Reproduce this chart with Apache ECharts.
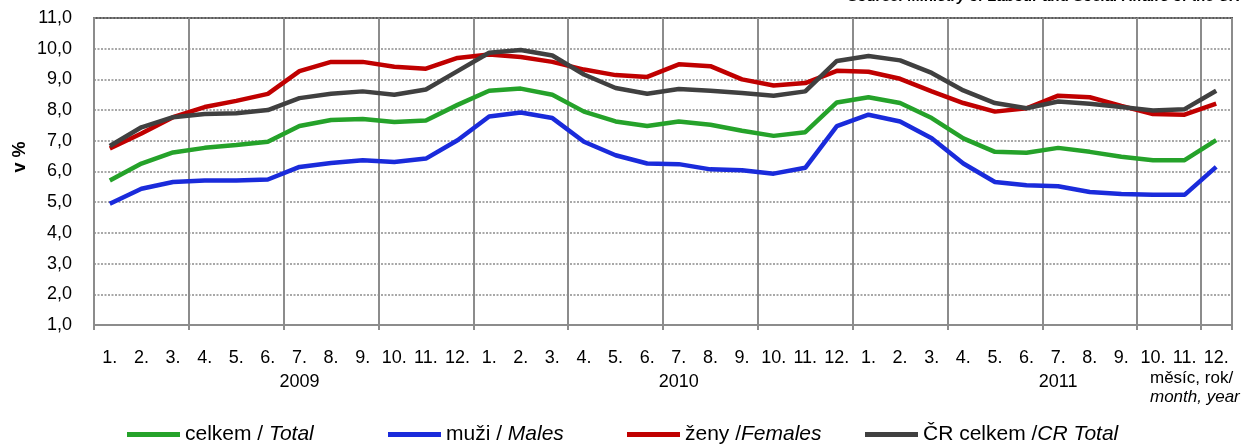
<!DOCTYPE html>
<html>
<head>
<meta charset="utf-8">
<script src="https://cdn.jsdelivr.net/npm/echarts@6/dist/echarts.min.js"></script>
<style>
  html, body { margin: 0; padding: 0; background: #fff; }
  #chart { width: 1247px; height: 445px; }
</style>
</head>
<body>
<div id="chart"></div>
<script>
// popisky osy x
var months = ['1.', '2.', '3.', '4.', '5.', '6.', '7.', '8.', '9.', '10.', '11.', '12.']
var years = ['2009', '2010', '2011']
var categories = [].concat(months, months, months)
var yTicks = [1, 2, 3, 4, 5, 6, 7, 8, 9, 10, 11]

// míra nezaměstnanosti v %
var celkem = [5.71, 6.26, 6.62, 6.77, 6.86, 6.97, 7.48, 7.68, 7.71, 7.61, 7.66, 8.17,
  8.63, 8.70, 8.50, 7.95, 7.63, 7.48, 7.63, 7.52, 7.33, 7.16, 7.28, 8.25,
  8.42, 8.23, 7.74, 7.08, 6.64, 6.61, 6.77, 6.64, 6.48, 6.37, 6.37, 7.02]
var muzi = [4.95, 5.44, 5.66, 5.71, 5.71, 5.74, 6.15, 6.28, 6.37, 6.31, 6.42, 7.02,
  7.79, 7.92, 7.74, 6.97, 6.53, 6.26, 6.24, 6.07, 6.04, 5.93, 6.12, 7.48,
  7.85, 7.63, 7.08, 6.26, 5.66, 5.55, 5.52, 5.33, 5.27, 5.24, 5.24, 6.15]
var zeny = [6.75, 7.24, 7.77, 8.10, 8.30, 8.53, 9.27, 9.57, 9.57, 9.41, 9.35, 9.70,
  9.81, 9.73, 9.57, 9.32, 9.14, 9.08, 9.49, 9.43, 9.00, 8.80, 8.88, 9.28,
  9.25, 9.02, 8.61, 8.23, 7.95, 8.06, 8.47, 8.42, 8.14, 7.87, 7.85, 8.21]
var crCelkem = [6.83, 7.44, 7.77, 7.87, 7.90, 8.00, 8.39, 8.53, 8.61, 8.50, 8.67, 9.27,
  9.87, 9.96, 9.78, 9.16, 8.72, 8.53, 8.69, 8.63, 8.56, 8.47, 8.61, 9.60,
  9.76, 9.62, 9.21, 8.64, 8.23, 8.06, 8.28, 8.21, 8.10, 7.99, 8.03, 8.63]

var namesCz = ['celkem / ', 'muži / ', 'ženy /', 'ČR celkem /']
var namesEn = ['Total', 'Males', 'Females', 'CR Total']
var colors = ['#25a22a', '#1a2bdb', '#c00000', '#404040']
var seriesData = [celkem, muzi, zeny, crCelkem]

var font = 'Liberation Sans, Arial, sans-serif'
var chart = echarts.init(document.getElementById('chart'))

var series = []
var legends = []
var legendLeft = [127, 388, 627, 865]
for (var i = 0; i < 4; i++) {
  var name = namesCz[i] + namesEn[i]
  series.push({
    name: name,
    type: 'line',
    data: seriesData[i],
    showSymbol: false,
    symbol: 'none',
    smooth: false,
    lineStyle: { color: colors[i], width: 4.5 },
    itemStyle: { color: colors[i] },
    z: 3 + i
  })
  legends.push({
    data: [name],
    left: legendLeft[i],
    top: 424,
    padding: 0,
    icon: 'rect',
    itemWidth: 53,
    itemHeight: 5,
    formatter: (function (k) {
      return function () { return '{a|' + namesCz[k] + '}{b|' + namesEn[k] + '}' }
    })(i),
    textStyle: {
      rich: {
        a: { fontSize: 21, fontFamily: font, color: '#000' },
        b: { fontSize: 21, fontFamily: font, color: '#000', fontStyle: 'italic' }
      }
    }
  })
}

var option = {
  animation: false,
  backgroundColor: '#fff',
  grid: {
    left: 94, right: 15, top: 18, bottom: 120,
    show: true, borderColor: '#595959', borderWidth: 2
  },
  legend: legends,
  xAxis: [{
    type: 'category',
    data: categories,
    boundaryGap: true,
    axisLine: { lineStyle: { color: '#8c8c8c', width: 2 } },
    axisTick: { show: true, interval: 2, length: 5, lineStyle: { color: '#8c8c8c', width: 2 } },
    splitLine: { show: true, interval: 2, lineStyle: { color: '#8c8c8c', width: 2, type: 'solid' } },
    axisLabel: { interval: 0, margin: 24, fontSize: 18, fontFamily: font, color: '#000' }
  }, {
    type: 'category',
    data: categories,
    position: 'bottom',
    boundaryGap: true,
    axisLine: { show: false },
    axisTick: { show: false },
    splitLine: { show: false },
    axisLabel: {
      interval: 0, margin: 48, fontSize: 18, fontFamily: font, color: '#000',
      formatter: function (v, idx) {
        return idx % 12 === 6 ? years[Math.floor(idx / 12)] : ''
      }
    }
  }],
  yAxis: {
    type: 'value',
    min: yTicks[0],
    max: yTicks[yTicks.length - 1],
    interval: 1,
    axisLine: { show: true, lineStyle: { color: '#8c8c8c', width: 2 } },
    axisTick: { show: false },
    splitLine: { show: true, lineStyle: { color: '#8c8c8c', width: 1.5, type: [2, 1.5] } },
    axisLabel: {
      margin: 22, fontSize: 18, fontFamily: font, color: '#000',
      formatter: function (v) { return v.toFixed(1).replace('.', ',') }
    }
  },
  graphic: [{
    type: 'text', x: 20, y: 157, rotation: Math.PI / 2,
    style: { text: 'v %', font: 'bold 18px ' + font, fill: '#000', align: 'center', verticalAlign: 'middle' }
  }, {
    type: 'text', x: 1150, y: 370,
    style: { text: 'měsíc, rok/', font: '17px ' + font, fill: '#000' }
  }, {
    type: 'text', x: 1150, y: 389,
    style: { text: 'month, year', font: 'italic 17px ' + font, fill: '#000' }
  }, {
    type: 'text', x: 1240, y: -11,
    style: { text: 'Source: Ministry of Labour and Social Affairs of the CR', font: 'italic bold 15px ' + font, fill: '#000', align: 'right' }
  }],
  series: series
}

chart.setOption(option)
</script>
</body>
</html>
